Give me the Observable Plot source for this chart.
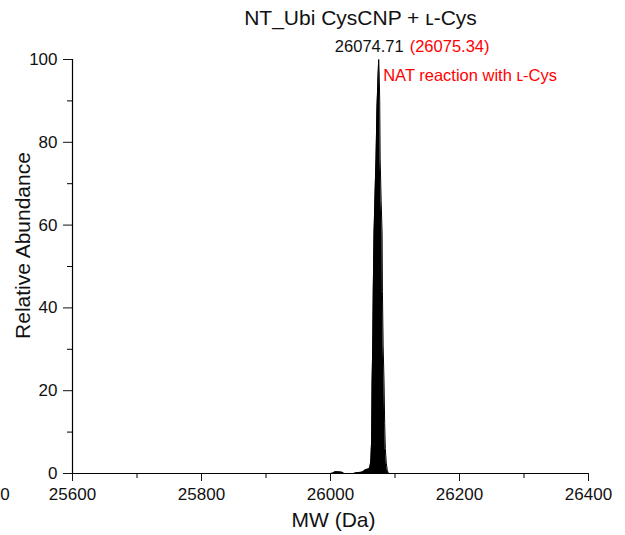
<!DOCTYPE html>
<html>
<head>
<meta charset="utf-8">
<script src="https://cdn.jsdelivr.net/npm/d3@7"></script>
<script src="https://cdn.jsdelivr.net/npm/@observablehq/plot@0.6"></script>
<style>
  html, body { margin: 0; padding: 0; background: #fff; }
  svg { display: block; font-family: "Liberation Sans", Arial, sans-serif; }
</style>
</head>
<body>
<div id="chart"></div>
<script>
// ---- data ----
const titleText = "NT_Ubi CysCNP + \u029F-Cys";
const xLabel = "MW (Da)";
const yLabel = "Relative Abundance";
const xTicks = [25600, 25800, 26000, 26200, 26400];
const xMinorTicks = [25700, 25900, 26100, 26300];
const yTicks = [0, 20, 40, 60, 80, 100];
const yMinorTicks = [10, 30, 50, 70, 90];
const mw = [25600, 26000, 26004, 26007, 26012, 26018, 26021, 26036, 26040, 26048, 26051, 26054, 26057, 26060,
  26061, 26062.5, 26063.8, 26064.5, 26065.5, 26066.3, 26067.5, 26069.5, 26070.6, 26072, 26073.5, 26074.71,
  26075.6, 26076.3, 26077, 26078.5, 26080, 26080.5, 26081.6, 26083, 26084, 26085, 26086.5, 26088, 26090, 26400];
const abundance = [0, 0, 0.1, 0.4, 0.4, 0.3, 0, 0, 0.2, 0.3, 0.5, 0.9, 1.0, 1.2,
  1.5, 3, 8, 22, 31, 44, 58, 70, 76, 88, 95, 100,
  96, 90, 76, 66, 58, 44, 31, 22, 12, 6, 2.5, 0.8, 0, 0];
const peakMW = [26074.71];
const peakAbundance = [100];
const peakObserved = ["26074.71"];
const peakTheoretical = ["(26075.34)"];
const peakNote = ["NAT reaction with \u029F-Cys"];
const strayText = ["0"];

const spectrum = mw.map((m, i) => ({mw: m, ab: abundance[i]}));
const peaks = peakMW.map((m, i) => ({mw: m, ab: peakAbundance[i], obs: peakObserved[i], theo: peakTheoretical[i], note: peakNote[i]}));
const fmt = d => String(d);

const chart = Plot.plot({
  width: 625,
  height: 535,
  marginLeft: 72,
  marginRight: 37,
  marginTop: 59,
  marginBottom: 62,
  style: {fontFamily: "Liberation Sans, Arial, sans-serif", background: "#fff", overflow: "visible"},
  x: {domain: [25600, 26400]},
  y: {domain: [0, 100]},
  marks: [
    Plot.areaY(spectrum, {x: "mw", y: "ab", fill: "black", curve: "linear"}),
    Plot.line(spectrum, {x: "mw", y: "ab", stroke: "black", strokeWidth: 1}),
    Plot.ruleY([0], {stroke: "black", strokeWidth: 1.2}),
    Plot.ruleX([25600], {stroke: "black", strokeWidth: 1.2}),
    Plot.axisX({ticks: xTicks, tickFormat: fmt, tickSize: 8, tickPadding: 6, fontSize: 17, label: null, color: "#111"}),
    Plot.axisX({ticks: xMinorTicks, tickSize: 5, text: null, label: null}),
    Plot.axisY({ticks: yTicks, tickFormat: fmt, tickSize: 9, tickPadding: 6, fontSize: 17, label: null, color: "#111"}),
    Plot.axisY({ticks: yMinorTicks, tickSize: 5, text: null, label: null}),
    // peak annotations
    Plot.text(peaks, {x: "mw", y: "ab", text: "obs", textAnchor: "end", lineAnchor: "middle", dx: 25, dy: -13, fontSize: 16.5, fill: "#111"}),
    Plot.text(peaks, {x: "mw", y: "ab", text: "theo", textAnchor: "start", lineAnchor: "middle", dx: 31, dy: -13, fontSize: 16.5, fill: "#ff0000"}),
    Plot.text(peaks, {x: "mw", y: "ab", text: "note", textAnchor: "start", lineAnchor: "middle", dx: 4.5, dy: 16, fontSize: 16.5, fill: "#ff0000"}),
    // titles
    Plot.text([titleText], {frameAnchor: "top", textAnchor: "middle", lineAnchor: "middle", dx: 30, dy: -41, fontSize: 21, fill: "#111"}),
    Plot.text([xLabel], {frameAnchor: "bottom", textAnchor: "middle", lineAnchor: "middle", dx: 3, dy: 47, fontSize: 21, fill: "#111"}),
    Plot.text([yLabel], {frameAnchor: "left", textAnchor: "middle", lineAnchor: "middle", rotate: -90, dx: -49, dy: -21, fontSize: 21, fill: "#111"}),
    Plot.text(strayText, {frameAnchor: "bottom-left", textAnchor: "middle", lineAnchor: "middle", dx: -67.5, dy: 21, fontSize: 17, fill: "#111"})
  ]
});
document.getElementById("chart").appendChild(chart);
</script>
</body>
</html>
